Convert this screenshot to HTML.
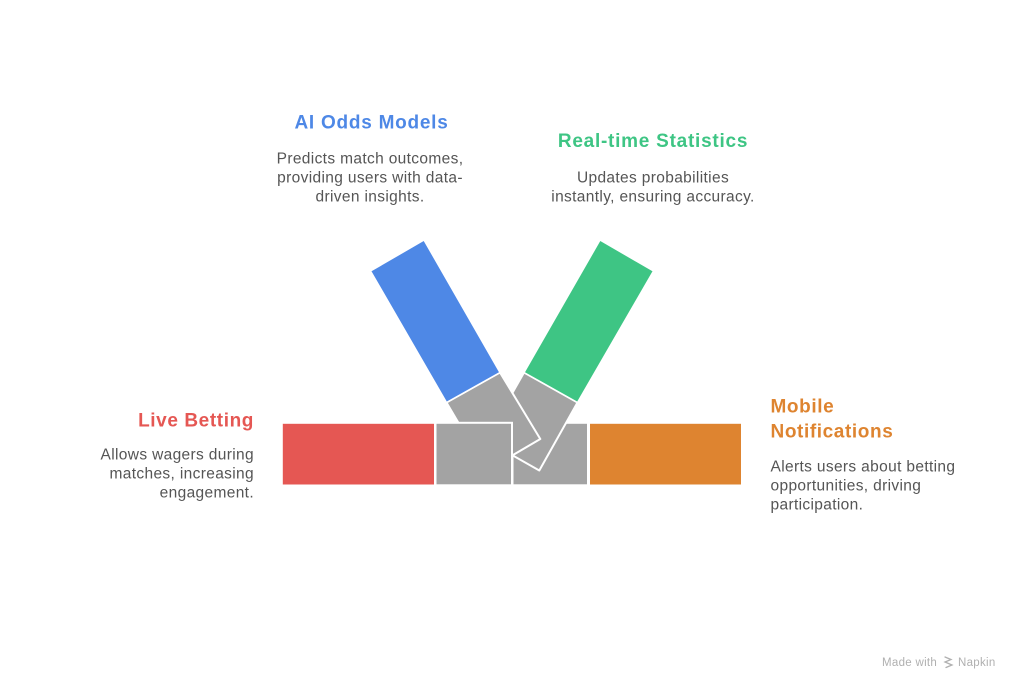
<!DOCTYPE html>
<html>
<head>
<meta charset="utf-8">
<style>
  html,body{margin:0;padding:0;background:#fff;}
  body{width:1024px;height:691px;overflow:hidden;position:relative;font-family:"Liberation Sans",Arial,sans-serif;}
  svg{position:absolute;left:0;top:0;}
</style>
</head>
<body>
<svg width="1024" height="691" viewBox="0 0 1024 691" xmlns="http://www.w3.org/2000/svg">
  <rect width="1024" height="691" fill="#ffffff"/>
  <!-- right gray square -->
  <rect x="512.5" y="422.8" width="75.5" height="62.5" fill="#a3a3a3" stroke="#ffffff" stroke-width="2"/>
  <!-- green gray continuation -->
  <polygon points="524,372.5 577.5,402.5 539.3,470.5 485.5,440" fill="#a3a3a3" stroke="#ffffff" stroke-width="2" stroke-linejoin="round"/>
  <!-- blue gray continuation -->
  <polygon points="500,372.5 446.5,402.5 486.5,470.5 540.3,439" fill="#a3a3a3" stroke="#ffffff" stroke-width="2" stroke-linejoin="round"/>
  <!-- left gray square -->
  <rect x="435.5" y="422.8" width="76.5" height="62.5" fill="#a3a3a3" stroke="#ffffff" stroke-width="2"/>
  <!-- red -->
  <rect x="282.3" y="423.3" width="152.2" height="61.7" fill="#e55753" stroke="#ffffff" stroke-width="1"/>
  <!-- orange -->
  <rect x="589.5" y="423.3" width="152" height="61.7" fill="#de8430" stroke="#ffffff" stroke-width="1"/>
  <!-- blue -->
  <polygon points="424,240 370.5,271 446.5,402.5 500,372.5" fill="#4e88e6" stroke="#ffffff" stroke-width="1.5" stroke-linejoin="round"/>
  <!-- green -->
  <polygon points="600,240 653.5,271 577.5,402.5 524,372.5" fill="#3ec584" stroke="#ffffff" stroke-width="1.5" stroke-linejoin="round"/>

  <!-- AI Odds Models -->
  <text x="371.5" y="128.5" text-anchor="middle" font-family="Liberation Sans, Arial, sans-serif" font-weight="bold" font-size="19" letter-spacing="0.75" fill="#4e88e6">AI Odds Models</text>
  <g font-family="Liberation Sans, Arial, sans-serif" font-size="15.5" letter-spacing="0.35" fill="#555555" text-anchor="middle">
    <text x="370" y="163.5">Predicts match outcomes,</text>
    <text x="370" y="182.5">providing users with data-</text>
    <text x="370" y="201.5">driven insights.</text>
  </g>

  <!-- Real-time Statistics -->
  <text x="653" y="147" text-anchor="middle" font-family="Liberation Sans, Arial, sans-serif" font-weight="bold" font-size="19" letter-spacing="0.75" fill="#3ec584">Real-time Statistics</text>
  <g font-family="Liberation Sans, Arial, sans-serif" font-size="15.5" letter-spacing="0.35" fill="#555555" text-anchor="middle">
    <text x="653" y="182.5">Updates probabilities</text>
    <text x="653" y="201.5">instantly, ensuring accuracy.</text>
  </g>

  <!-- Live Betting -->
  <text x="254" y="426.5" text-anchor="end" font-family="Liberation Sans, Arial, sans-serif" font-weight="bold" font-size="19" letter-spacing="0.6" fill="#e55753">Live Betting</text>
  <g font-family="Liberation Sans, Arial, sans-serif" font-size="15.5" letter-spacing="0.35" fill="#555555" text-anchor="end">
    <text x="254" y="459.5">Allows wagers during</text>
    <text x="254" y="478.5">matches, increasing</text>
    <text x="254" y="497.5">engagement.</text>
  </g>

  <!-- Mobile Notifications -->
  <g font-family="Liberation Sans, Arial, sans-serif" font-weight="bold" font-size="19" letter-spacing="0.6" fill="#de8430">
    <text x="770.5" y="412.5">Mobile</text>
    <text x="770.5" y="437.5">Notifications</text>
  </g>
  <g font-family="Liberation Sans, Arial, sans-serif" font-size="15.5" letter-spacing="0.35" fill="#555555">
    <text x="770.5" y="471.5">Alerts users about betting</text>
    <text x="770.5" y="490.5">opportunities, driving</text>
    <text x="770.5" y="509.5">participation.</text>
  </g>

  <!-- watermark -->
  <g fill="#b0b0b0" font-family="Liberation Sans, Arial, sans-serif" font-size="11.5" letter-spacing="0.3">
    <text x="882" y="666">Made with</text>
    <g stroke="#b0b0b0" stroke-width="1.3" fill="none" stroke-linecap="round">
      <path d="M945,657 l6,2.5 l-6,2.5 l7,3 l-6,2.5"/>
    </g>
    <text x="958" y="666">Napkin</text>
  </g>
</svg>
</body>
</html>
